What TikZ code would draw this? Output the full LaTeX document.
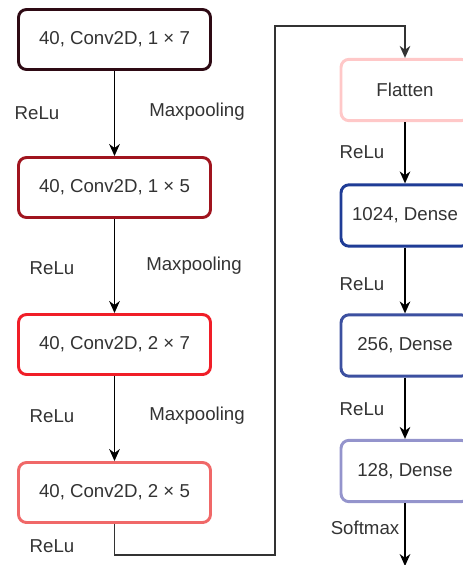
\documentclass[tikz,border=0pt]{standalone}
\usepackage{fontspec}
\setmainfont{Liberation Sans}
\usepackage{tikz}
\usetikzlibrary{arrows.meta}
\usepackage{xcolor}
\definecolor{convA}{HTML}{2E0A14}
\definecolor{convB}{HTML}{A0141E}
\definecolor{convC}{HTML}{F01E28}
\definecolor{convD}{HTML}{F06868}
\definecolor{flat}{HTML}{FFC8C8}
\definecolor{denseA}{HTML}{1F3C96}
\definecolor{denseB}{HTML}{3C50A0}
\definecolor{denseC}{HTML}{9494CC}
\definecolor{txt}{HTML}{333333}

\tikzset{
	layer/.style={draw,rounded corners=6pt,line width=2.2pt,fill=white,
		minimum width=144pt,minimum height=45pt,text=txt,font=\fontsize{14}{16}\selectfont},
	dense/.style={layer,minimum width=96pt,minimum height=46pt},
	lbl/.style={text=txt,font=\fontsize{14}{16}\selectfont,inner sep=1pt},
	flow/.style={-{Stealth[length=9pt,width=8pt]},line width=1pt,black}
}

\begin{document}
\begin{tikzpicture}[x=0.75pt,y=-0.75pt]
\useasboundingbox (0,0) rectangle (463,565);
% conv part
\node[layer,draw=convA] (c1) at (114.5,39.5) {40, Conv2D, 1 × 7};
\node[layer,draw=convB] (c2) at (114.5,187.5) {40, Conv2D, 1 × 5};
\node[layer,draw=convC] (c3) at (114.5,344.5) {40, Conv2D, 2 × 7};
\node[layer,draw=convD] (c4) at (114.5,492.5) {40, Conv2D, 2 × 5};
% dense part
\node[dense,draw=flat] (fl) at (405,90) {Flatten};
\node[dense,draw=denseA] (d1) at (405,215.5) {1024, Dense};
\node[dense,draw=denseB] (d2) at (405,345.5) {256, Dense};
\node[dense,draw=denseC] (d3) at (405,471) {128, Dense};

\foreach \a/\b in {c1/c2,c2/c3,c3/c4,fl/d1,d1/d2,d2/d3} {
	\draw[flow] (\a) -- (\b);
}
\coordinate (b1) at (275,555);
\coordinate (b2) at (275,26);
\coordinate (out) at (405,566);
\draw[flow,draw=txt] (c4.south) |- (b1) -- (b2) -| (fl.north);
\draw[flow] (d3) -- (out);

% labels
\node[lbl] (r1) at (37,113) {ReLu};
\node[lbl] (r2) at (52,268) {ReLu};
\node[lbl] (r3) at (52,416) {ReLu};
\node[lbl] (r4) at (52,546) {ReLu};
\node[lbl] (m1) at (197,112) {Maxpooling};
\node[lbl] (m2) at (194,266) {Maxpooling};
\node[lbl] (m3) at (197,416) {Maxpooling};
\node[lbl] (r5) at (362,152) {ReLu};
\node[lbl] (r6) at (362,284) {ReLu};
\node[lbl] (r7) at (362,409) {ReLu};
\node[lbl] (sm) at (365,528) {Softmax};
\end{tikzpicture}
\end{document}
